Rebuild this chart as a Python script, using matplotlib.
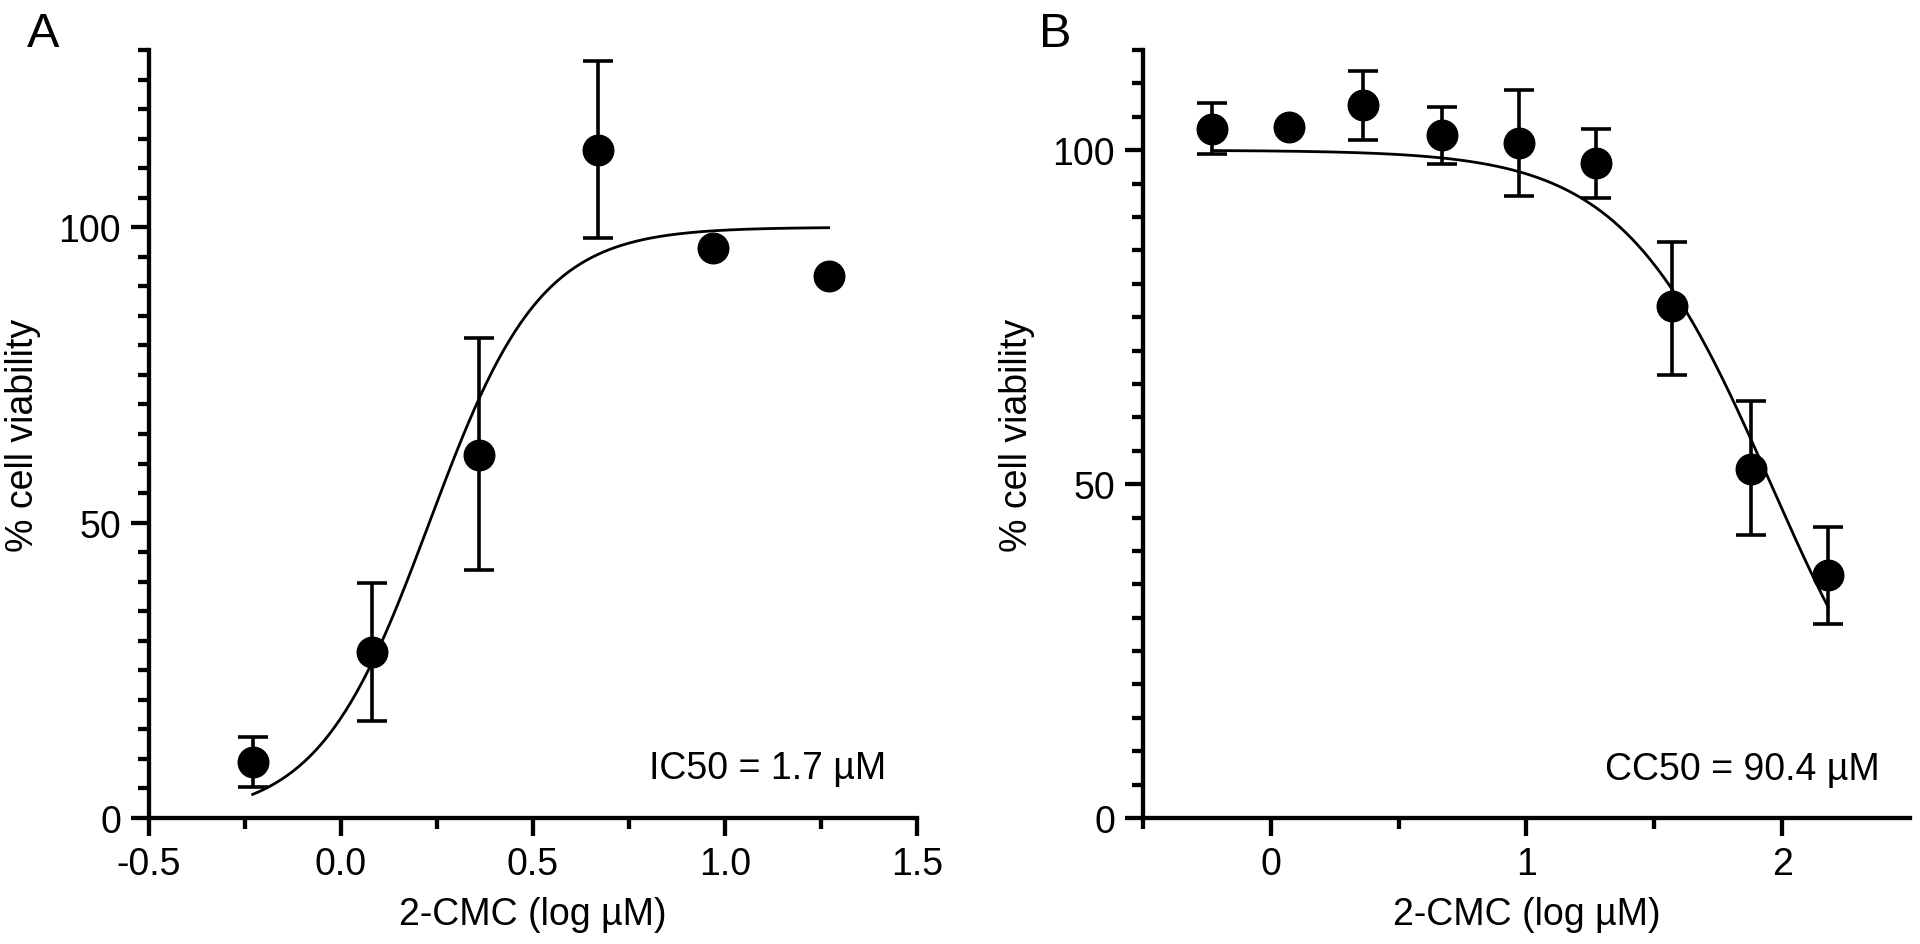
import numpy as np
import matplotlib
matplotlib.use("Agg")
import matplotlib.pyplot as plt
from matplotlib.ticker import MultipleLocator, FixedLocator

plt.rcParams['font.family'] = ['Liberation Sans', 'DejaVu Sans']

# panel A: antiviral activity
a_x = [-0.23, 0.08, 0.36, 0.67, 0.97, 1.27]
a_y = [9.5, 28.1, 61.5, 113.1, 96.5, 91.8]
a_lo = [5.3, 16.5, 41.9, 98.2, None, None]
a_hi = [13.8, 39.8, 81.2, 128.1, None, None]
a_logic50 = 0.23   # log10(1.7)
a_hill = 3.0

# panel B: cytotoxicity
b_x = [-0.23, 0.07, 0.36, 0.67, 0.97, 1.27, 1.57, 1.88, 2.18]
b_y = [103.2, 103.4, 106.8, 102.3, 101.1, 98.1, 76.6, 52.3, 36.4]
b_lo = [99.4, None, 101.5, 97.9, 93.1, 92.9, 66.3, 42.4, 29.0]
b_hi = [107.1, None, 111.9, 106.4, 109.0, 103.2, 86.3, 62.4, 43.6]
b_logcc50 = 1.956  # log10(90.4)
b_hill = 1.5


def dose_response(x, logmid, hill, rising):
    if rising:
        return 100.0 / (1 + 10 ** ((logmid - x) * hill))
    return 100.0 / (1 + 10 ** ((x - logmid) * hill))


def draw_panel(ax, xs, ys, lo, hi, logmid, hill, rising):
    xs = np.array(xs)
    ys = np.array(ys)
    lo = np.array([np.nan if v is None else v for v in lo])
    hi = np.array([np.nan if v is None else v for v in hi])
    m = ~np.isnan(lo)
    ax.errorbar(xs[m], ys[m], yerr=[ys[m] - lo[m], hi[m] - ys[m]], fmt='none',
                ecolor='black', elinewidth=2.6, capsize=11, capthick=2.6, zorder=2)
    xx = np.linspace(xs.min(), xs.max(), 300)
    ax.plot(xx, dose_response(xx, logmid, hill, rising), color='black', lw=2.0, zorder=3)
    ax.plot(xs, ys, 'o', color='black', ms=22, zorder=4)

    for s in ['top', 'right']:
        ax.spines[s].set_visible(False)
    for s in ['left', 'bottom']:
        ax.spines[s].set_linewidth(3.1)
    ax.tick_params(which='major', length=13, width=3.1, labelsize=27, pad=7)
    ax.tick_params(which='minor', length=8, width=3.1)
    ax.yaxis.set_major_locator(FixedLocator([0, 50, 100]))
    ax.yaxis.set_minor_locator(MultipleLocator(5))
    ax.set_ylabel('% cell viability', fontsize=27)
    ax.set_xlabel('2-CMC (log µM)', fontsize=27)
    ax.yaxis.set_label_coords(-0.141, 0.5)
    ax.xaxis.set_label_coords(0.5, -0.102)


fig = plt.figure(figsize=(19.2, 9.45), dpi=100)
axA = fig.add_axes([0.0776, 0.1333, 0.400, 0.8127])
axB = fig.add_axes([0.5953, 0.1333, 0.3995, 0.8127])

draw_panel(axA, a_x, a_y, a_lo, a_hi, a_logic50, a_hill, True)
axA.set_xlim(-0.5, 1.5)
axA.set_ylim(0, 130)
axA.xaxis.set_major_locator(FixedLocator([-0.5, 0.0, 0.5, 1.0, 1.5]))
axA.xaxis.set_minor_locator(FixedLocator([-0.25, 0.25, 0.75, 1.25]))
axA.set_xticklabels(['-0.5', '0.0', '0.5', '1.0', '1.5'])
axA.text(1.42, 6.8, 'IC50 = 1.7 µM', fontsize=27, ha='right', va='baseline')

draw_panel(axB, b_x, b_y, b_lo, b_hi, b_logcc50, b_hill, False)
axB.set_xlim(-0.5, 2.5)
axB.set_ylim(0, 115)
axB.xaxis.set_major_locator(FixedLocator([0, 1, 2]))
axB.xaxis.set_minor_locator(FixedLocator([-0.5, 0.5, 1.5]))
axB.text(2.38, 5.9, 'CC50 = 90.4 µM', fontsize=27, ha='right', va='baseline')

fig.text(0.0141, 0.9503, 'A', fontsize=35, ha='left', va='baseline')
fig.text(0.5412, 0.9503, 'B', fontsize=35, ha='left', va='baseline')

fig.savefig('out.png', dpi=100)
